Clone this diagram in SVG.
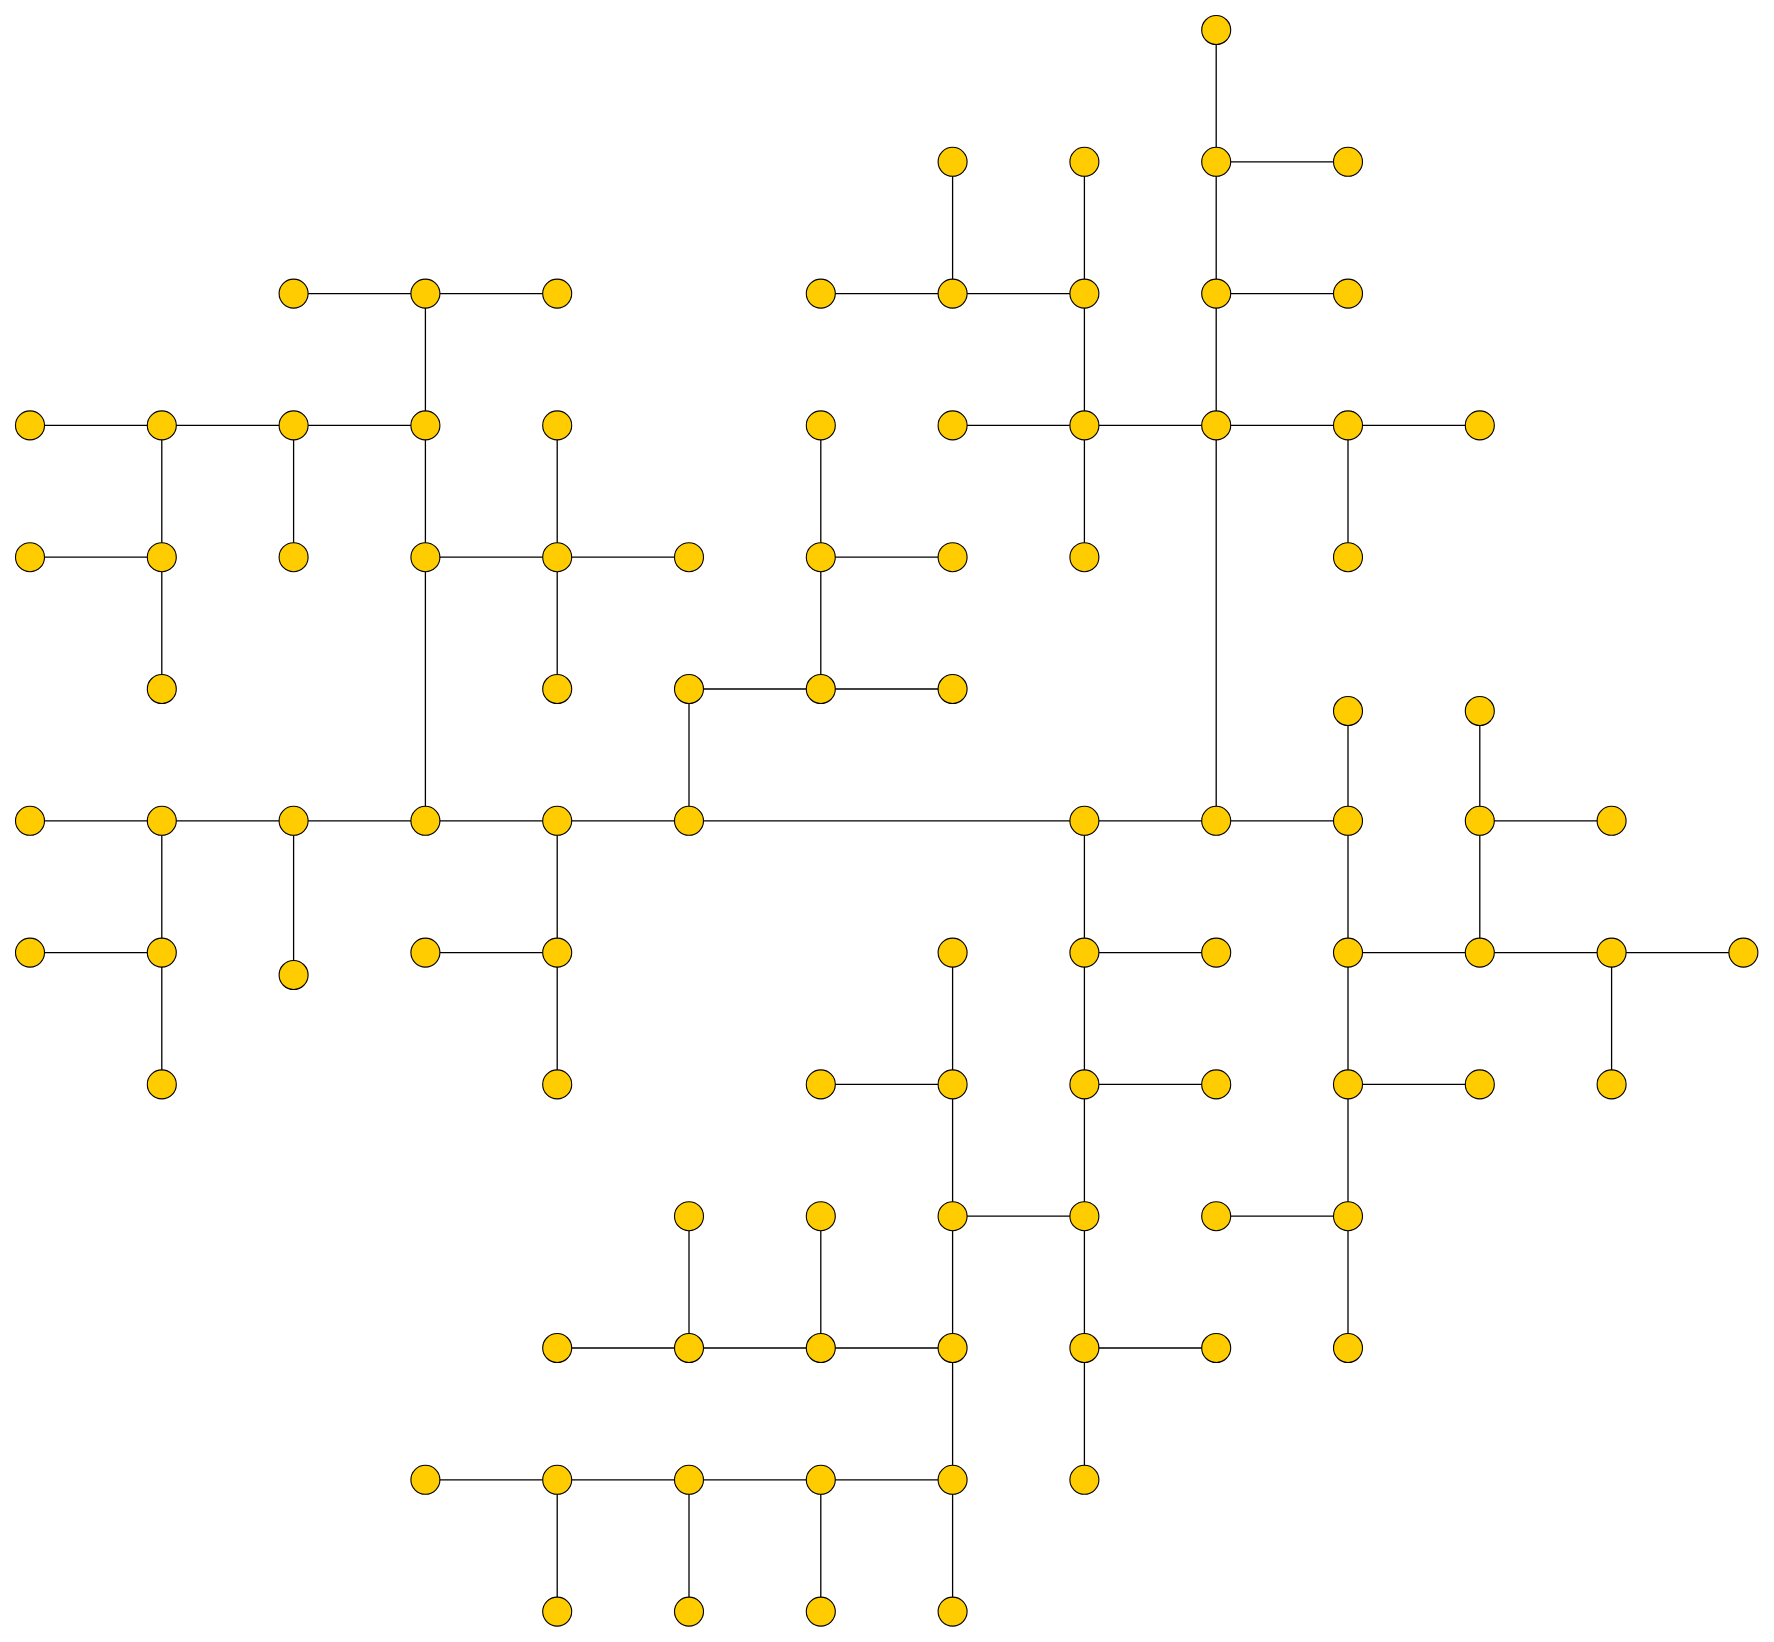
<svg xmlns="http://www.w3.org/2000/svg" width="1774" height="1642" viewBox="0 0 1774 1642">
<style>
.e{stroke:#000;stroke-width:1.3;fill:none}
.n{fill:#FFCC00;stroke:#000;stroke-width:1.1}
</style>
<rect width="1774" height="1642" fill="#fff"/>
<g id="connectors" class="e">
<line x1="1216.2" y1="30" x2="1216.2" y2="161.8"/>
<line x1="1216.2" y1="161.8" x2="1348" y2="161.8"/>
<line x1="1216.2" y1="161.8" x2="1216.2" y2="293.6"/>
<line x1="952.6" y1="161.8" x2="952.6" y2="293.6"/>
<line x1="1084.4" y1="161.8" x2="1084.4" y2="293.6"/>
<line x1="293.6" y1="293.6" x2="425.4" y2="293.6"/>
<line x1="425.4" y1="293.6" x2="557.2" y2="293.6"/>
<line x1="425.4" y1="293.6" x2="425.4" y2="425.4"/>
<line x1="820.8" y1="293.6" x2="952.6" y2="293.6"/>
<line x1="952.6" y1="293.6" x2="1084.4" y2="293.6"/>
<line x1="1084.4" y1="293.6" x2="1084.4" y2="425.4"/>
<line x1="1216.2" y1="293.6" x2="1348" y2="293.6"/>
<line x1="1216.2" y1="293.6" x2="1216.2" y2="425.4"/>
<line x1="30" y1="425.4" x2="161.8" y2="425.4"/>
<line x1="161.8" y1="425.4" x2="293.6" y2="425.4"/>
<line x1="293.6" y1="425.4" x2="425.4" y2="425.4"/>
<line x1="161.8" y1="425.4" x2="161.8" y2="557.2"/>
<line x1="293.6" y1="425.4" x2="293.6" y2="557.2"/>
<line x1="425.4" y1="425.4" x2="425.4" y2="557.2"/>
<line x1="557.2" y1="425.4" x2="557.2" y2="557.2"/>
<line x1="820.8" y1="425.4" x2="820.8" y2="557.2"/>
<line x1="952.6" y1="425.4" x2="1084.4" y2="425.4"/>
<line x1="1084.4" y1="425.4" x2="1216.2" y2="425.4"/>
<line x1="1216.2" y1="425.4" x2="1348" y2="425.4"/>
<line x1="1348" y1="425.4" x2="1479.8" y2="425.4"/>
<line x1="1084.4" y1="425.4" x2="1084.4" y2="557.2"/>
<line x1="1216.2" y1="425.4" x2="1216.2" y2="820.8"/>
<line x1="1348" y1="425.4" x2="1348" y2="557.2"/>
<line x1="30" y1="557.2" x2="161.8" y2="557.2"/>
<line x1="161.8" y1="557.2" x2="161.8" y2="689"/>
<line x1="425.4" y1="557.2" x2="557.2" y2="557.2"/>
<line x1="557.2" y1="557.2" x2="689" y2="557.2"/>
<line x1="425.4" y1="557.2" x2="425.4" y2="820.8"/>
<line x1="557.2" y1="557.2" x2="557.2" y2="689"/>
<line x1="820.8" y1="557.2" x2="952.6" y2="557.2"/>
<line x1="820.8" y1="557.2" x2="820.8" y2="689"/>
<line x1="689" y1="689" x2="820.8" y2="689"/>
<line x1="820.8" y1="689" x2="952.6" y2="689"/>
<line x1="689" y1="689" x2="689" y2="820.8"/>
<line x1="1348" y1="711" x2="1348" y2="820.8"/>
<line x1="1479.8" y1="711" x2="1479.8" y2="820.8"/>
<line x1="30" y1="820.8" x2="161.8" y2="820.8"/>
<line x1="161.8" y1="820.8" x2="293.6" y2="820.8"/>
<line x1="293.6" y1="820.8" x2="425.4" y2="820.8"/>
<line x1="425.4" y1="820.8" x2="557.2" y2="820.8"/>
<line x1="557.2" y1="820.8" x2="689" y2="820.8"/>
<line x1="689" y1="820.8" x2="1084.4" y2="820.8"/>
<line x1="1084.4" y1="820.8" x2="1216.2" y2="820.8"/>
<line x1="1216.2" y1="820.8" x2="1348" y2="820.8"/>
<line x1="161.8" y1="820.8" x2="161.8" y2="952.6"/>
<line x1="293.6" y1="820.8" x2="293.6" y2="975"/>
<line x1="557.2" y1="820.8" x2="557.2" y2="952.6"/>
<line x1="1084.4" y1="820.8" x2="1084.4" y2="952.6"/>
<line x1="1348" y1="820.8" x2="1348" y2="952.6"/>
<line x1="1479.8" y1="820.8" x2="1611.6" y2="820.8"/>
<line x1="1479.8" y1="820.8" x2="1479.8" y2="952.6"/>
<line x1="30" y1="952.6" x2="161.8" y2="952.6"/>
<line x1="161.8" y1="952.6" x2="161.8" y2="1084.4"/>
<line x1="425.4" y1="952.6" x2="557.2" y2="952.6"/>
<line x1="557.2" y1="952.6" x2="557.2" y2="1084.4"/>
<line x1="952.6" y1="952.6" x2="952.6" y2="1084.4"/>
<line x1="1084.4" y1="952.6" x2="1216.2" y2="952.6"/>
<line x1="1084.4" y1="952.6" x2="1084.4" y2="1084.4"/>
<line x1="1348" y1="952.6" x2="1479.8" y2="952.6"/>
<line x1="1479.8" y1="952.6" x2="1611.6" y2="952.6"/>
<line x1="1611.6" y1="952.6" x2="1743.4" y2="952.6"/>
<line x1="1348" y1="952.6" x2="1348" y2="1084.4"/>
<line x1="1611.6" y1="952.6" x2="1611.6" y2="1084.4"/>
<line x1="820.8" y1="1084.4" x2="952.6" y2="1084.4"/>
<line x1="952.6" y1="1084.4" x2="952.6" y2="1216.2"/>
<line x1="1084.4" y1="1084.4" x2="1216.2" y2="1084.4"/>
<line x1="1084.4" y1="1084.4" x2="1084.4" y2="1216.2"/>
<line x1="1348" y1="1084.4" x2="1479.8" y2="1084.4"/>
<line x1="1348" y1="1084.4" x2="1348" y2="1216.2"/>
<line x1="689" y1="1216.2" x2="689" y2="1348"/>
<line x1="820.8" y1="1216.2" x2="820.8" y2="1348"/>
<line x1="952.6" y1="1216.2" x2="1084.4" y2="1216.2"/>
<line x1="952.6" y1="1216.2" x2="952.6" y2="1348"/>
<line x1="1084.4" y1="1216.2" x2="1084.4" y2="1348"/>
<line x1="1216.2" y1="1216.2" x2="1348" y2="1216.2"/>
<line x1="1348" y1="1216.2" x2="1348" y2="1348"/>
<line x1="557.2" y1="1348" x2="689" y2="1348"/>
<line x1="689" y1="1348" x2="820.8" y2="1348"/>
<line x1="820.8" y1="1348" x2="952.6" y2="1348"/>
<line x1="952.6" y1="1348" x2="952.6" y2="1479.8"/>
<line x1="1084.4" y1="1348" x2="1216.2" y2="1348"/>
<line x1="1084.4" y1="1348" x2="1084.4" y2="1479.8"/>
<line x1="425.4" y1="1479.8" x2="557.2" y2="1479.8"/>
<line x1="557.2" y1="1479.8" x2="689" y2="1479.8"/>
<line x1="689" y1="1479.8" x2="820.8" y2="1479.8"/>
<line x1="820.8" y1="1479.8" x2="952.6" y2="1479.8"/>
<line x1="557.2" y1="1479.8" x2="557.2" y2="1611.6"/>
<line x1="689" y1="1479.8" x2="689" y2="1611.6"/>
<line x1="820.8" y1="1479.8" x2="820.8" y2="1611.6"/>
<line x1="952.6" y1="1479.8" x2="952.6" y2="1611.6"/>
</g>
<g id="nodes">
<g id="n9-0"><circle class="n" cx="1216.2" cy="30" r="14.5"/></g>
<g id="n7-1"><circle class="n" cx="952.6" cy="161.8" r="14.5"/></g>
<g id="n8-1"><circle class="n" cx="1084.4" cy="161.8" r="14.5"/></g>
<g id="n9-1"><circle class="n" cx="1216.2" cy="161.8" r="14.5"/></g>
<g id="n10-1"><circle class="n" cx="1348" cy="161.8" r="14.5"/></g>
<g id="n2-2"><circle class="n" cx="293.6" cy="293.6" r="14.5"/></g>
<g id="n3-2"><circle class="n" cx="425.4" cy="293.6" r="14.5"/></g>
<g id="n4-2"><circle class="n" cx="557.2" cy="293.6" r="14.5"/></g>
<g id="n6-2"><circle class="n" cx="820.8" cy="293.6" r="14.5"/></g>
<g id="n7-2"><circle class="n" cx="952.6" cy="293.6" r="14.5"/></g>
<g id="n8-2"><circle class="n" cx="1084.4" cy="293.6" r="14.5"/></g>
<g id="n9-2"><circle class="n" cx="1216.2" cy="293.6" r="14.5"/></g>
<g id="n10-2"><circle class="n" cx="1348" cy="293.6" r="14.5"/></g>
<g id="n0-3"><circle class="n" cx="30" cy="425.4" r="14.5"/></g>
<g id="n1-3"><circle class="n" cx="161.8" cy="425.4" r="14.5"/></g>
<g id="n2-3"><circle class="n" cx="293.6" cy="425.4" r="14.5"/></g>
<g id="n3-3"><circle class="n" cx="425.4" cy="425.4" r="14.5"/></g>
<g id="n4-3"><circle class="n" cx="557.2" cy="425.4" r="14.5"/></g>
<g id="n6-3"><circle class="n" cx="820.8" cy="425.4" r="14.5"/></g>
<g id="n7-3"><circle class="n" cx="952.6" cy="425.4" r="14.5"/></g>
<g id="n8-3"><circle class="n" cx="1084.4" cy="425.4" r="14.5"/></g>
<g id="n9-3"><circle class="n" cx="1216.2" cy="425.4" r="14.5"/></g>
<g id="n10-3"><circle class="n" cx="1348" cy="425.4" r="14.5"/></g>
<g id="n11-3"><circle class="n" cx="1479.8" cy="425.4" r="14.5"/></g>
<g id="n0-4"><circle class="n" cx="30" cy="557.2" r="14.5"/></g>
<g id="n1-4"><circle class="n" cx="161.8" cy="557.2" r="14.5"/></g>
<g id="n2-4"><circle class="n" cx="293.6" cy="557.2" r="14.5"/></g>
<g id="n3-4"><circle class="n" cx="425.4" cy="557.2" r="14.5"/></g>
<g id="n4-4"><circle class="n" cx="557.2" cy="557.2" r="14.5"/></g>
<g id="n5-4"><circle class="n" cx="689" cy="557.2" r="14.5"/></g>
<g id="n6-4"><circle class="n" cx="820.8" cy="557.2" r="14.5"/></g>
<g id="n7-4"><circle class="n" cx="952.6" cy="557.2" r="14.5"/></g>
<g id="n8-4"><circle class="n" cx="1084.4" cy="557.2" r="14.5"/></g>
<g id="n10-4"><circle class="n" cx="1348" cy="557.2" r="14.5"/></g>
<g id="n1-5"><circle class="n" cx="161.8" cy="689" r="14.5"/></g>
<g id="n4-5"><circle class="n" cx="557.2" cy="689" r="14.5"/></g>
<g id="n5-5"><circle class="n" cx="689" cy="689" r="14.5"/></g>
<g id="n6-5"><circle class="n" cx="820.8" cy="689" r="14.5"/></g>
<g id="n7-5"><circle class="n" cx="952.6" cy="689" r="14.5"/></g>
<g id="n10-5b"><circle class="n" cx="1348" cy="711" r="14.5"/></g>
<g id="n11-5b"><circle class="n" cx="1479.8" cy="711" r="14.5"/></g>
<g id="n0-6"><circle class="n" cx="30" cy="820.8" r="14.5"/></g>
<g id="n1-6"><circle class="n" cx="161.8" cy="820.8" r="14.5"/></g>
<g id="n2-6"><circle class="n" cx="293.6" cy="820.8" r="14.5"/></g>
<g id="n3-6"><circle class="n" cx="425.4" cy="820.8" r="14.5"/></g>
<g id="n4-6"><circle class="n" cx="557.2" cy="820.8" r="14.5"/></g>
<g id="n5-6"><circle class="n" cx="689" cy="820.8" r="14.5"/></g>
<g id="n8-6"><circle class="n" cx="1084.4" cy="820.8" r="14.5"/></g>
<g id="n9-6"><circle class="n" cx="1216.2" cy="820.8" r="14.5"/></g>
<g id="n10-6"><circle class="n" cx="1348" cy="820.8" r="14.5"/></g>
<g id="n11-6"><circle class="n" cx="1479.8" cy="820.8" r="14.5"/></g>
<g id="n12-6"><circle class="n" cx="1611.6" cy="820.8" r="14.5"/></g>
<g id="n0-7"><circle class="n" cx="30" cy="952.6" r="14.5"/></g>
<g id="n1-7"><circle class="n" cx="161.8" cy="952.6" r="14.5"/></g>
<g id="n2-7b"><circle class="n" cx="293.6" cy="975" r="14.5"/></g>
<g id="n3-7"><circle class="n" cx="425.4" cy="952.6" r="14.5"/></g>
<g id="n4-7"><circle class="n" cx="557.2" cy="952.6" r="14.5"/></g>
<g id="n7-7"><circle class="n" cx="952.6" cy="952.6" r="14.5"/></g>
<g id="n8-7"><circle class="n" cx="1084.4" cy="952.6" r="14.5"/></g>
<g id="n9-7"><circle class="n" cx="1216.2" cy="952.6" r="14.5"/></g>
<g id="n10-7"><circle class="n" cx="1348" cy="952.6" r="14.5"/></g>
<g id="n11-7"><circle class="n" cx="1479.8" cy="952.6" r="14.5"/></g>
<g id="n12-7"><circle class="n" cx="1611.6" cy="952.6" r="14.5"/></g>
<g id="n13-7"><circle class="n" cx="1743.4" cy="952.6" r="14.5"/></g>
<g id="n1-8"><circle class="n" cx="161.8" cy="1084.4" r="14.5"/></g>
<g id="n4-8"><circle class="n" cx="557.2" cy="1084.4" r="14.5"/></g>
<g id="n6-8"><circle class="n" cx="820.8" cy="1084.4" r="14.5"/></g>
<g id="n7-8"><circle class="n" cx="952.6" cy="1084.4" r="14.5"/></g>
<g id="n8-8"><circle class="n" cx="1084.4" cy="1084.4" r="14.5"/></g>
<g id="n9-8"><circle class="n" cx="1216.2" cy="1084.4" r="14.5"/></g>
<g id="n10-8"><circle class="n" cx="1348" cy="1084.4" r="14.5"/></g>
<g id="n11-8"><circle class="n" cx="1479.8" cy="1084.4" r="14.5"/></g>
<g id="n12-8"><circle class="n" cx="1611.6" cy="1084.4" r="14.5"/></g>
<g id="n5-9"><circle class="n" cx="689" cy="1216.2" r="14.5"/></g>
<g id="n6-9"><circle class="n" cx="820.8" cy="1216.2" r="14.5"/></g>
<g id="n7-9"><circle class="n" cx="952.6" cy="1216.2" r="14.5"/></g>
<g id="n8-9"><circle class="n" cx="1084.4" cy="1216.2" r="14.5"/></g>
<g id="n9-9"><circle class="n" cx="1216.2" cy="1216.2" r="14.5"/></g>
<g id="n10-9"><circle class="n" cx="1348" cy="1216.2" r="14.5"/></g>
<g id="n4-10"><circle class="n" cx="557.2" cy="1348" r="14.5"/></g>
<g id="n5-10"><circle class="n" cx="689" cy="1348" r="14.5"/></g>
<g id="n6-10"><circle class="n" cx="820.8" cy="1348" r="14.5"/></g>
<g id="n7-10"><circle class="n" cx="952.6" cy="1348" r="14.5"/></g>
<g id="n8-10"><circle class="n" cx="1084.4" cy="1348" r="14.5"/></g>
<g id="n9-10"><circle class="n" cx="1216.2" cy="1348" r="14.5"/></g>
<g id="n10-10"><circle class="n" cx="1348" cy="1348" r="14.5"/></g>
<g id="n3-11"><circle class="n" cx="425.4" cy="1479.8" r="14.5"/></g>
<g id="n4-11"><circle class="n" cx="557.2" cy="1479.8" r="14.5"/></g>
<g id="n5-11"><circle class="n" cx="689" cy="1479.8" r="14.5"/></g>
<g id="n6-11"><circle class="n" cx="820.8" cy="1479.8" r="14.5"/></g>
<g id="n7-11"><circle class="n" cx="952.6" cy="1479.8" r="14.5"/></g>
<g id="n8-11"><circle class="n" cx="1084.4" cy="1479.8" r="14.5"/></g>
<g id="n4-12"><circle class="n" cx="557.2" cy="1611.6" r="14.5"/></g>
<g id="n5-12"><circle class="n" cx="689" cy="1611.6" r="14.5"/></g>
<g id="n6-12"><circle class="n" cx="820.8" cy="1611.6" r="14.5"/></g>
<g id="n7-12"><circle class="n" cx="952.6" cy="1611.6" r="14.5"/></g>
</g>
</svg>
